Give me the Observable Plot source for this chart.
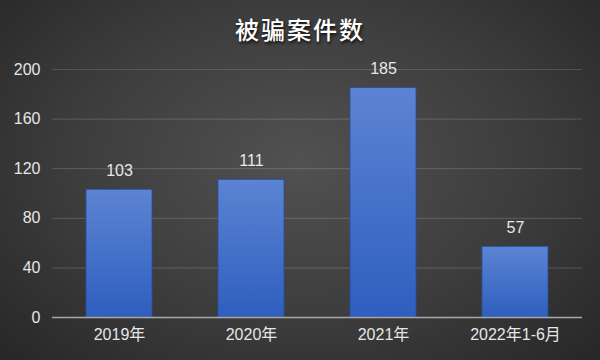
<!DOCTYPE html>
<html>
<head>
<meta charset="utf-8">
<script src="https://cdn.jsdelivr.net/npm/d3@7"></script>
<script src="https://cdn.jsdelivr.net/npm/@observablehq/plot@0.6"></script>
<style>
  html, body { margin: 0; padding: 0; }
  #wrap {
    position: relative; width: 600px; height: 360px; overflow: hidden;
    background: radial-gradient(ellipse 75% 85% at 50% 45%, #515151 0%, #3d3d3d 50%, #232323 100%);
    font-family: "Liberation Sans", "Noto Sans CJK SC", sans-serif;
  }
  #title {
    position: absolute; left: 0; top: 12px; width: 600px; text-align: center;
    font-family: "Noto Sans CJK SC", sans-serif; font-size: 24px; font-weight: 500;
    color: #ffffff; line-height: 34px; letter-spacing: 2px;
    text-shadow: 1px 2px 3px rgba(0,0,0,0.8);
  }
  #chart { position: absolute; left: 0; top: 50px; }
</style>
</head>
<body>
<div id="wrap">
  <div id="title">被骗案件数</div>
  <div id="chart"></div>
</div>
<script>
const categories = ["2019年", "2020年", "2021年", "2022年1-6月"];
const values = [103, 111, 185, 57];
const yTicks = [0, 40, 80, 120, 160, 200];

const data = categories.map((c, i) => ({category: c, value: values[i]}));

const chart = Plot.plot({
  width: 600,
  height: 310,
  marginTop: 19,
  marginBottom: 43,
  marginLeft: 52,
  marginRight: 18,
  style: {background: "transparent", color: "#e6e6e6", fontSize: "16px",
          fontFamily: "'Liberation Sans', 'Noto Sans CJK SC', sans-serif"},
  x: {domain: categories, paddingInner: 0.5, paddingOuter: 0.25, label: null},
  y: {domain: [0, 200], label: null},
  marks: [
    Plot.ruleY(yTicks.filter(d => d > 0), {stroke: "#ffffff", strokeOpacity: 0.14, strokeWidth: 1.2}),
    Plot.barY(data, {x: "category", y: "value", fill: "url(#barGrad)", stroke: "#2a4f9e", strokeWidth: 0.8}),
    Plot.ruleY([0], {stroke: "#a8a8a8", strokeWidth: 1.5}),
    Plot.axisX({tickSize: 0, tickPadding: 11, fontSize: 16, fill: "#e6e6e6", label: null}),
    Plot.axisY({ticks: yTicks, tickSize: 0, tickPadding: 12, fontSize: 16, fill: "#e6e6e6", label: null}),
    Plot.text(data, {x: "category", y: "value", text: d => String(d.value), dy: -19,
                     fill: "#e8e8e8", fontSize: 16})
  ]
});

const svg = d3.select(chart);
const defs = svg.insert("defs", ":first-child");
const g = defs.append("linearGradient").attr("id", "barGrad")
  .attr("x1", 0).attr("y1", 0).attr("x2", 0).attr("y2", 1);
g.append("stop").attr("offset", "0%").attr("stop-color", "#5c84d3");
g.append("stop").attr("offset", "100%").attr("stop-color", "#2e5ebf");

document.getElementById("chart").appendChild(chart);
</script>
</body>
</html>
